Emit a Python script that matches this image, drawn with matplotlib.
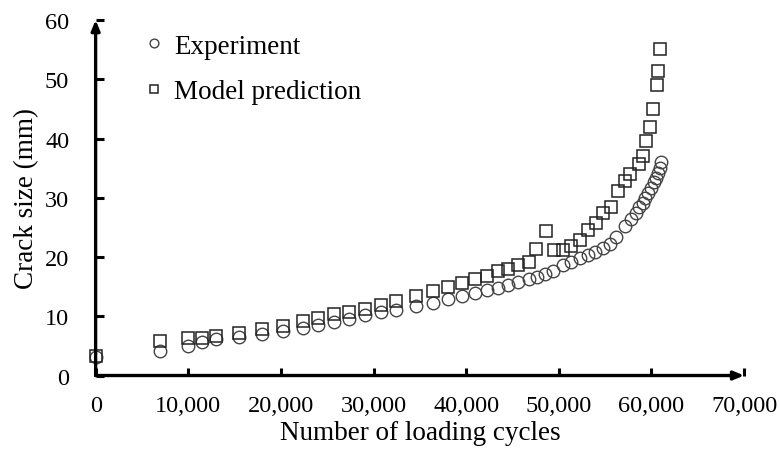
import matplotlib
matplotlib.use("Agg")
import matplotlib.pyplot as plt
from matplotlib.ticker import FuncFormatter

exp_cycles = [0, 7000, 10000, 11450, 13000, 15440, 18000, 20200, 22400, 24000,
              25700, 27300, 29100, 30800, 32400, 34600, 36400, 38000, 39500, 41000,
              42200, 43400, 44500, 45600, 46750, 47600, 48550, 49400, 50450, 51350,
              52250, 53100, 53950, 54750, 55500, 56200, 57100, 57800, 58300, 58700,
              59100, 59350, 59650, 60000, 60270, 60500, 60700, 60870, 61050]
exp_size = [3.2, 4.2, 5.0, 5.7, 6.2, 6.5, 7.05, 7.45, 8.0, 8.6,
            9.0, 9.5, 10.2, 10.65, 11.05, 11.7, 12.2, 12.9, 13.35, 13.9,
            14.4, 14.7, 15.3, 15.7, 16.3, 16.7, 17.1, 17.7, 18.6, 19.1,
            19.9, 20.3, 20.9, 21.6, 22.2, 23.3, 25.3, 26.5, 27.4, 28.4,
            29.2, 29.9, 30.8, 31.7, 32.6, 33.4, 34.2, 35.1, 36.0]

model_cycles = [0, 7000, 10000, 11450, 13000, 15440, 18000, 20200, 22400, 24000,
                25700, 27300, 29100, 30800, 32400, 34600, 36400, 38000, 39500, 41000,
                42200, 43400, 44500, 45600, 46750, 47500, 48650, 49500, 50500, 51300,
                52300, 53100, 54000, 54800, 55600, 56400, 57100, 57700, 58700, 59100,
                59450, 59800, 60200, 60600, 60750, 60950]
model_size = [3.3, 5.9, 6.3, 6.4, 6.7, 7.2, 7.9, 8.4, 9.2, 9.75,
              10.3, 10.8, 11.3, 11.9, 12.6, 13.4, 14.2, 15.0, 15.6, 16.3,
              16.8, 17.6, 18.0, 18.6, 19.2, 21.4, 24.4, 21.2, 21.2, 21.9,
              22.9, 24.5, 25.7, 27.4, 28.5, 31.2, 32.9, 34.0, 35.7, 37.0,
              39.5, 42.0, 44.9, 49.0, 51.4, 55.1]

x_ticks = [0, 10000, 20000, 30000, 40000, 50000, 60000, 70000]
y_ticks = [0, 10, 20, 30, 40, 50, 60]

plt.rcParams['font.family'] = ['Liberation Serif', 'DejaVu Serif']

fig = plt.figure(figsize=(7.8, 4.6), dpi=100)
ax = fig.add_axes([0.1226, 0.1815, 0.8314, 0.7728])

ax.plot(exp_cycles, exp_size, linestyle='none', marker='o', markersize=9,
        markerfacecolor='none', markeredgecolor='#444444', markeredgewidth=1.0,
        label='Experiment', clip_on=False)
ax.plot(model_cycles, model_size, linestyle='none', marker='s', markersize=9,
        markerfacecolor='none', markeredgecolor='#222222', markeredgewidth=1.1,
        label='Model prediction', clip_on=False)

ax.set_xlim(0, 70000)
ax.set_ylim(0, 60)
ax.set_xticks(x_ticks)
ax.set_yticks(y_ticks)
ax.xaxis.set_major_formatter(FuncFormatter(lambda v, p: f"{int(v):,}"))
ax.tick_params(direction='in', length=6, width=2.2, labelsize=17.5)
ax.tick_params(axis='x', pad=14)
ax.tick_params(axis='y', pad=19)

for s in ['top', 'right', 'left', 'bottom']:
    ax.spines[s].set_visible(False)

# axes with arrowheads
ax.annotate('', xy=(1.0, 0), xytext=(0, 0), xycoords='axes fraction',
            arrowprops=dict(arrowstyle='-|>,head_length=0.6,head_width=0.25',
                            lw=2.4, color='black', shrinkA=0, shrinkB=0))
ax.annotate('', xy=(0, 1.0), xytext=(0, 0), xycoords='axes fraction',
            arrowprops=dict(arrowstyle='-|>,head_length=0.6,head_width=0.25',
                            lw=2.4, color='black', shrinkA=0, shrinkB=0))

ax.set_xlabel('Number of loading cycles', fontsize=19.5, labelpad=3)
ax.set_ylabel('Crack size (mm)', fontsize=19.5, labelpad=4)

leg = ax.legend(loc='upper left', bbox_to_anchor=(0.04, 1.03), frameon=False,
                fontsize=19.5, handlelength=0.6, handletextpad=0.45,
                labelspacing=0.75, markerscale=0.7)

fig.savefig('out.png', dpi=100)
